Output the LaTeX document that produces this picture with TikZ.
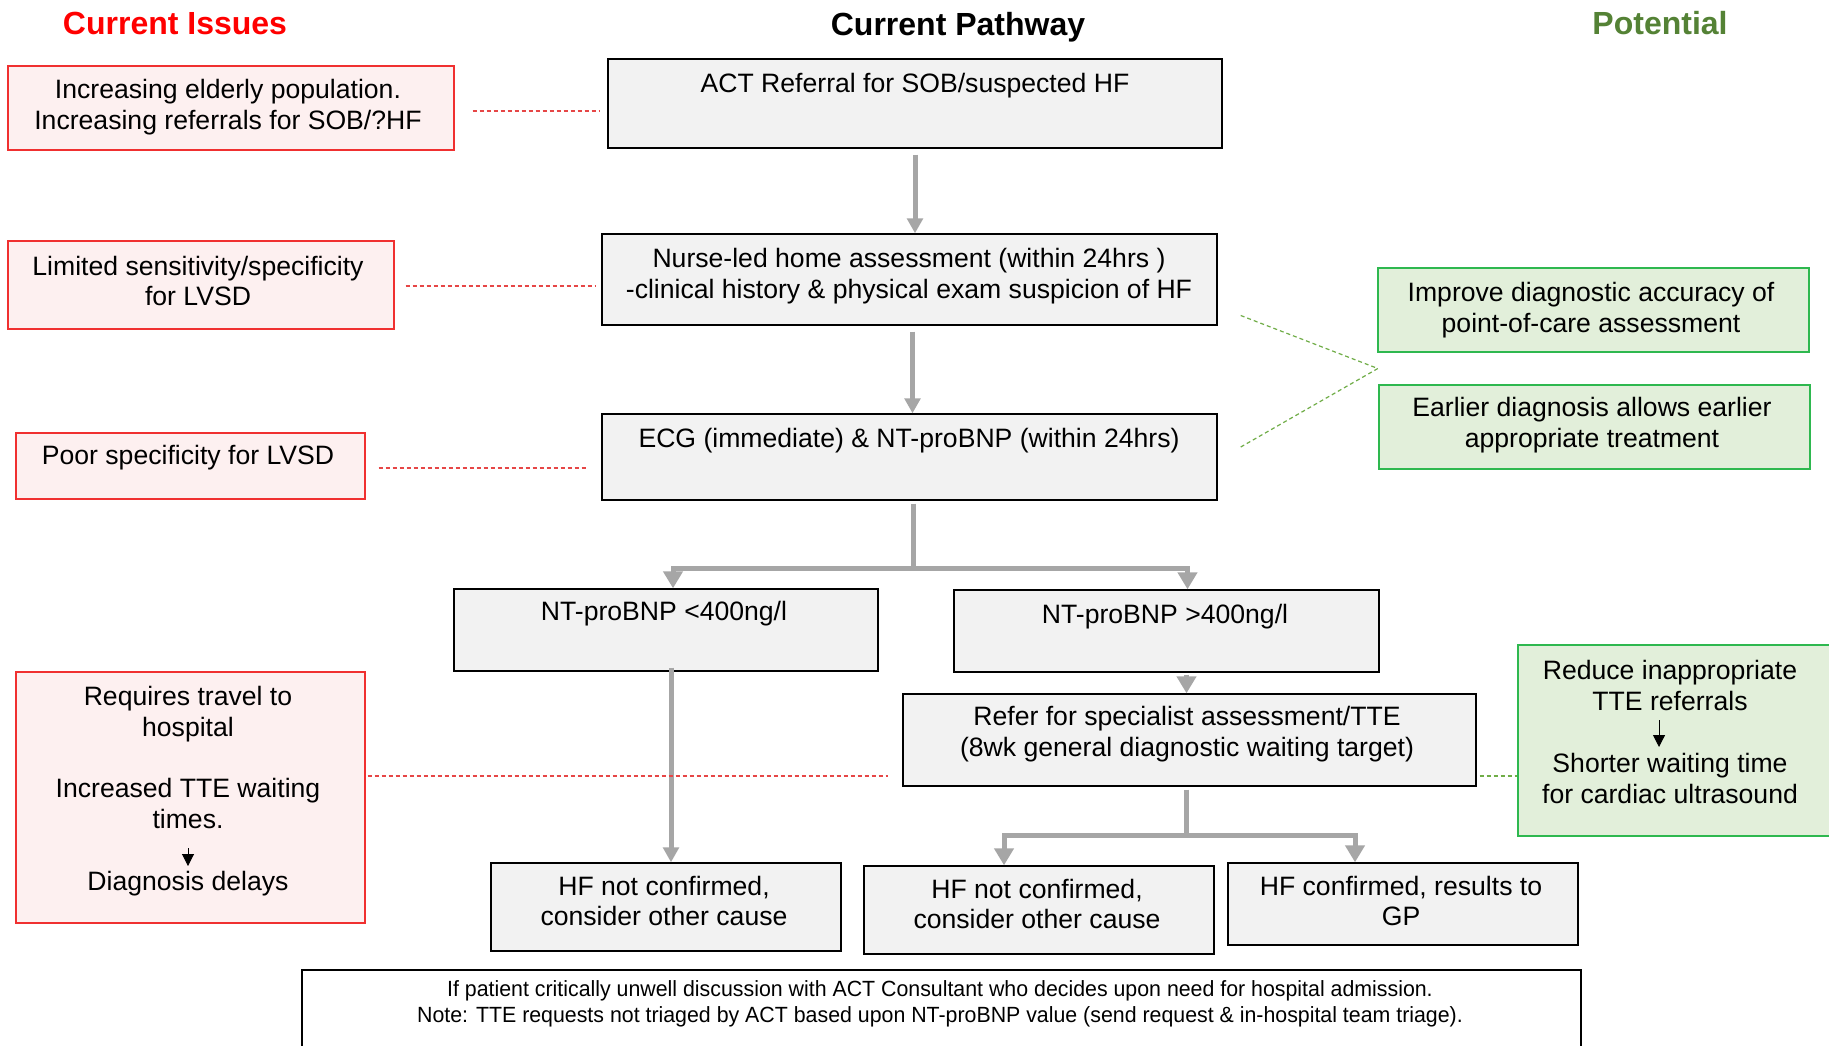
\documentclass[tikz,border=0pt]{standalone}
\usepackage{fontspec}
\setmainfont{Liberation Sans}
\newfontfamily\notefont[FakeStretch=0.97]{Liberation Sans}
\usetikzlibrary{arrows.meta,calc,fit}

\definecolor{issuered}{HTML}{FF0000}
\definecolor{issuefill}{HTML}{FDF0F0}
\definecolor{issueline}{HTML}{F03030}
\definecolor{potgreen}{HTML}{548235}
\definecolor{potfill}{HTML}{E2EFDA}
\definecolor{potline}{HTML}{2EB84F}
\definecolor{stepfill}{HTML}{F2F2F2}
\definecolor{flowgray}{HTML}{A6A6A6}
\definecolor{linkred}{HTML}{E64646}
\definecolor{linkgreen}{HTML}{70AD47}

\tikzset{
  box/.style={draw, line width=0.7pt, inner sep=0pt},
  stepbox/.style={box, draw=black, fill=stepfill},
  issuebox/.style={box, draw=issueline, fill=issuefill},
  potbox/.style={box, draw=potline, fill=potfill},
  txt/.style={align=center, font=\fontsize{13.3}{15.4}\selectfont, inner sep=0pt, yshift=-1.5pt},
  notetxt/.style={align=center, font=\notefont\fontsize{11}{12.8}\selectfont, inner sep=0pt},
  head/.style={font=\fontsize{16}{19}\selectfont\bfseries, inner sep=0pt},
  flow/.style={draw=flowgray, line width=2.5pt},
  flowarrow/.style={flow, -{Triangle[width=7.8pt,length=7.5pt]}},
  splitarrow/.style={flow, -{Triangle[width=9.5pt,length=8.5pt]}},
  redlink/.style={draw=linkred, line width=0.6pt, dash pattern=on 2pt off 1.5pt},
  greenlink/.style={draw=linkgreen, line width=0.6pt, dash pattern=on 2pt off 1.5pt},
  minor/.style={line width=0.5pt, -{Triangle[width=6pt,length=6pt]}},
}

\begin{document}
\begin{tikzpicture}[x=0.5pt,y=-0.5pt]
\clip (0,0) rectangle (1829,1045);
\fill[white] (0,0) rectangle (1829,1045);

% column headings
\node[head, text=issuered] (hIssues) at (175,23) {Current Issues};
\node[head] (hPath) at (958,27) {Current Pathway};
\node[head, text=potgreen] (hPot) at (1660,23) {Potential};

% pathway steps
\node[stepbox, fit={(608,59)(1222,148)}] (A) {};
\node[txt] (At) at (915,83) {ACT Referral for SOB/suspected HF};

\node[stepbox, fit={(602,234)(1217,325)}] (B) {};
\node[txt] (Bt) at (909,273) {Nurse-led home assessment (within 24hrs )\\-clinical history \& physical exam suspicion of HF};

\node[stepbox, fit={(602,414)(1217,500)}] (C) {};
\node[txt] (Ct) at (909,438) {ECG (immediate) \& NT-proBNP (within 24hrs)};

\node[stepbox, fit={(454,589)(878,671)}] (D) {};
\node[txt] (Dt) at (664,611) {NT-proBNP <400ng/l};

\node[stepbox, fit={(954,590)(1379,672)}] (E) {};
\node[txt] (Et) at (1165,614) {NT-proBNP >400ng/l};

\node[stepbox, fit={(903,694)(1476,786)}] (F) {};
\node[txt] (Ft) at (1187,731) {Refer for specialist assessment/TTE\\(8wk general diagnostic waiting target)};

\node[stepbox, fit={(491,863)(841,951)}] (G) {};
\node[txt] (Gt) at (664,898) {HF not confirmed,\\consider other cause};

\node[stepbox, fit={(864,866)(1214,954)}] (H) {};
\node[txt] (Ht) at (1037,901) {HF not confirmed,\\consider other cause};

\node[stepbox, fit={(1228,863)(1578,945)}] (I) {};
\node[txt] (It) at (1401,898) {HF confirmed, results to\\GP};

\node[box, draw=black, fill=white, fit={(302,970)(1581,1070)}] (J) {};
\node[notetxt] (Jt) at (940,1004) {If patient critically unwell discussion with ACT Consultant who decides upon need for hospital admission.\\Note: TTE requests not triaged by ACT based upon NT-proBNP value (send request \& in-hospital team triage).};

% current issues
\node[issuebox, fit={(8,66)(454,150)}] (i1) {};
\node[txt] (i1t) at (228,104) {Increasing elderly population.\\Increasing referrals for SOB/?HF};

\node[issuebox, fit={(8,241)(394,329)}] (i2) {};
\node[txt] (i2t) at (198,278) {Limited sensitivity/specificity\\for LVSD};

\node[issuebox, fit={(16,433)(365,499)}] (i3) {};
\node[txt] (i3t) at (188,455) {Poor specificity for LVSD};

\node[issuebox, fit={(16,672)(365,923)}] (i4) {};
\node[txt] (i4t) at (188,788) {Requires travel to\\hospital\\\mbox{}\\Increased TTE waiting\\times.\\\mbox{}\\Diagnosis delays};
\draw[minor] ($(i4t.center)+(0,57)$) -- ($(i4t.center)+(0,75)$);

% potential
\node[potbox, fit={(1378,268)(1809,352)}] (P1) {};
\node[txt] (P1t) at (1591,307) {Improve diagnostic accuracy of\\point-of-care assessment};

\node[potbox, fit={(1379,385)(1810,469)}] (P2) {};
\node[txt] (P2t) at (1592,422) {Earlier diagnosis allows earlier\\appropriate treatment};

\node[potbox, fit={(1518,645)(1840,836)}] (P3) {};
\node[txt] (P3t) at (1670,729) {Reduce inappropriate\\TTE referrals\\\mbox{}\\Shorter waiting time\\for cardiac ultrasound};
\draw[minor] ($(P3t.center)+(-11,-12)$) -- ($(P3t.center)+(-11,15)$);

% main flow
\draw[flowarrow, shorten <=3pt] (A.south) -- (A.south |- B.north);
\draw[flowarrow, shorten <=3pt] ($(B.south)+(3,0)$) -- ($(C.north)+(3,0)$);
\coordinate (s1) at ($(C.south)+(4,68)$);
\draw[flow, shorten <=1.5pt] ($(C.south)+(4,0)$) -- (s1);
\draw[splitarrow] (s1) -| ($(D.north)+(7,0)$);
\draw[splitarrow] (s1) -| ($(E.north)+(21,0)$);
\draw[splitarrow, shorten <=1pt] ($(E.south -| F.north)+(-3,0)$) -- ($(F.north)+(-3,0)$);
\draw[flowarrow] ($(D.south)+(5,-4)$) -- ($(G.north)+(5,0)$);
\coordinate (s2) at ($(F.south)+(-3,49)$);
\draw[flow, shorten <=1.5pt] ($(F.south)+(-3,0)$) -- (s2);
\draw[splitarrow] (s2) -| ($(H.north)+(-35,0)$);
\draw[splitarrow] (s2) -| ($(I.north)+(-48,0)$);

% links from issues
\draw[redlink] ($(i1.east)+(18,3)$) -- ($(i1.east -| A.west)+(-7,3)$);
\draw[redlink] ($(i2.east)+(11,1)$) -- ($(i2.east -| B.west)+(-5,1)$);
\draw[redlink] ($(i3.east)+(13,2)$) -- ($(i3.east -| C.west)+(-13,2)$);
\draw[redlink] ($(i4.east)+(2,-21.5)$) -- ($(i4.east -| F.west)+(-14,-21.5)$);

% links to potential
\coordinate (pm) at ($(P1.south west)!0.5!(P2.north west)$);
\draw[greenlink] ($(B.east)+(23,36)$) -- (pm);
\draw[greenlink] ($(C.east)+(23,-10)$) -- (pm);
\draw[greenlink] ($(F.east)+(3,36)$) -- ($(F.east -| P3.west)+(0,36)$);
\end{tikzpicture}
\end{document}
